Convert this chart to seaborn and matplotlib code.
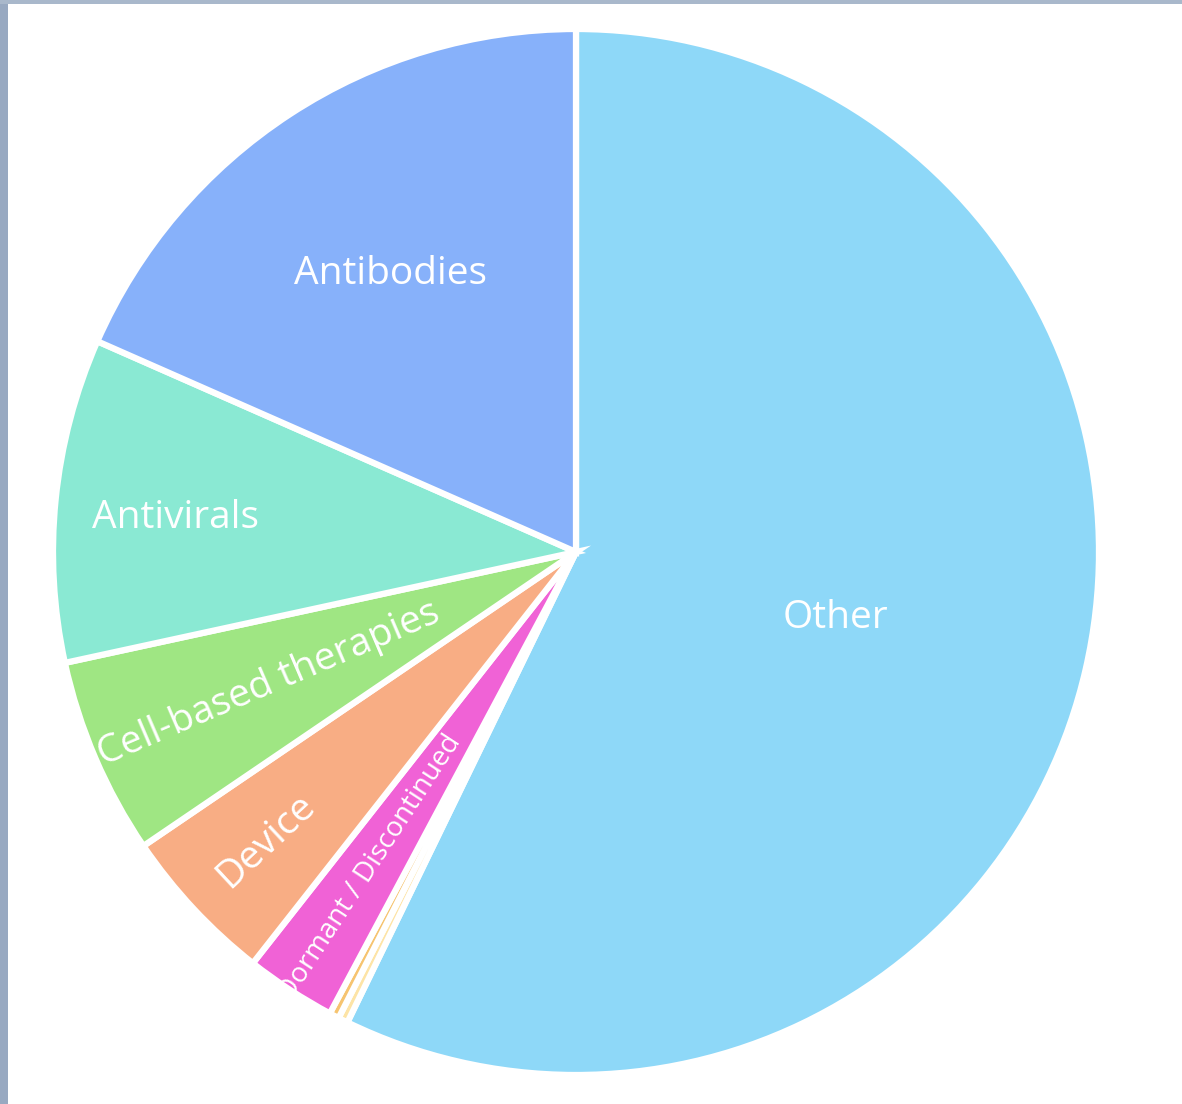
import numpy as np
import matplotlib
matplotlib.use("Agg")
import matplotlib.pyplot as plt
from matplotlib.patches import Rectangle
import seaborn as sns

categories = ["Other", "Vaccines", "Unknown", "Dormant / Discontinued", "Device",
              "Cell-based therapies", "Antivirals", "Antibodies"]
values = [57.2, 0.3, 0.3, 2.8, 4.9, 6.1, 10.0, 18.4]
colors = ["#8ed8f8", "#fde4a6", "#f6c470", "#f062d6", "#f8ad84",
          "#9fe683", "#8ae9d3", "#87b1fa"]
show_label = [True, False, False, True, True, True, True, True]
label_radius = [0.51, 0, 0, 0.72, 0.81, 0.64, 0.77, 0.65]
label_radial = [False, False, False, True, True, True, False, False]
label_size = [28, 0, 0, 20, 28, 28, 28, 28]

sns.set_theme(style="white")
plt.rcParams['font.family'] = ['Open Sans', 'DejaVu Sans']

W, H = 1182, 1104
fig = plt.figure(figsize=(W / 100, H / 100), dpi=100)
fig.patch.set_facecolor("white")

# frame strips
fig.patches.append(Rectangle((0, 0), 8 / W, 1, transform=fig.transFigure,
                             facecolor="#98a9c1", edgecolor="none", zorder=0))
fig.patches.append(Rectangle((0, 1 - 4 / H), 1, 4 / H, transform=fig.transFigure,
                             facecolor="#a9b8cb", edgecolor="none", zorder=0))

R = 523
cx, cy = 576, 552
ax = fig.add_axes([(cx - R) / W, (H - cy - R) / H, 2 * R / W, 2 * R / H])

wedges, _ = ax.pie(values, colors=colors, startangle=90, counterclock=False,
                   radius=1.0, wedgeprops=dict(edgecolor="white", linewidth=4.5))
ax.set_xlim(-1, 1)
ax.set_ylim(-1, 1)
ax.set_aspect("equal")
ax.axis("off")

for w, lab, show, rf, radial, fs in zip(wedges, categories, show_label,
                                        label_radius, label_radial, label_size):
    if not show:
        continue
    mid = np.deg2rad((w.theta1 + w.theta2) / 2)
    x, y = rf * np.cos(mid), rf * np.sin(mid)
    rot = 0
    if radial:
        rot = np.rad2deg(mid) + 180
        rot = (rot + 180) % 360 - 180
        if rot > 90:
            rot -= 180
        if rot < -90:
            rot += 180
    else:
        y -= 0.012
    t = ax.text(x, y, lab, color="white", fontsize=fs, ha="center", va="center",
                rotation=rot, rotation_mode="anchor", fontweight=500)
    t.set_clip_path(w)

fig.savefig("out.png", dpi=100)
